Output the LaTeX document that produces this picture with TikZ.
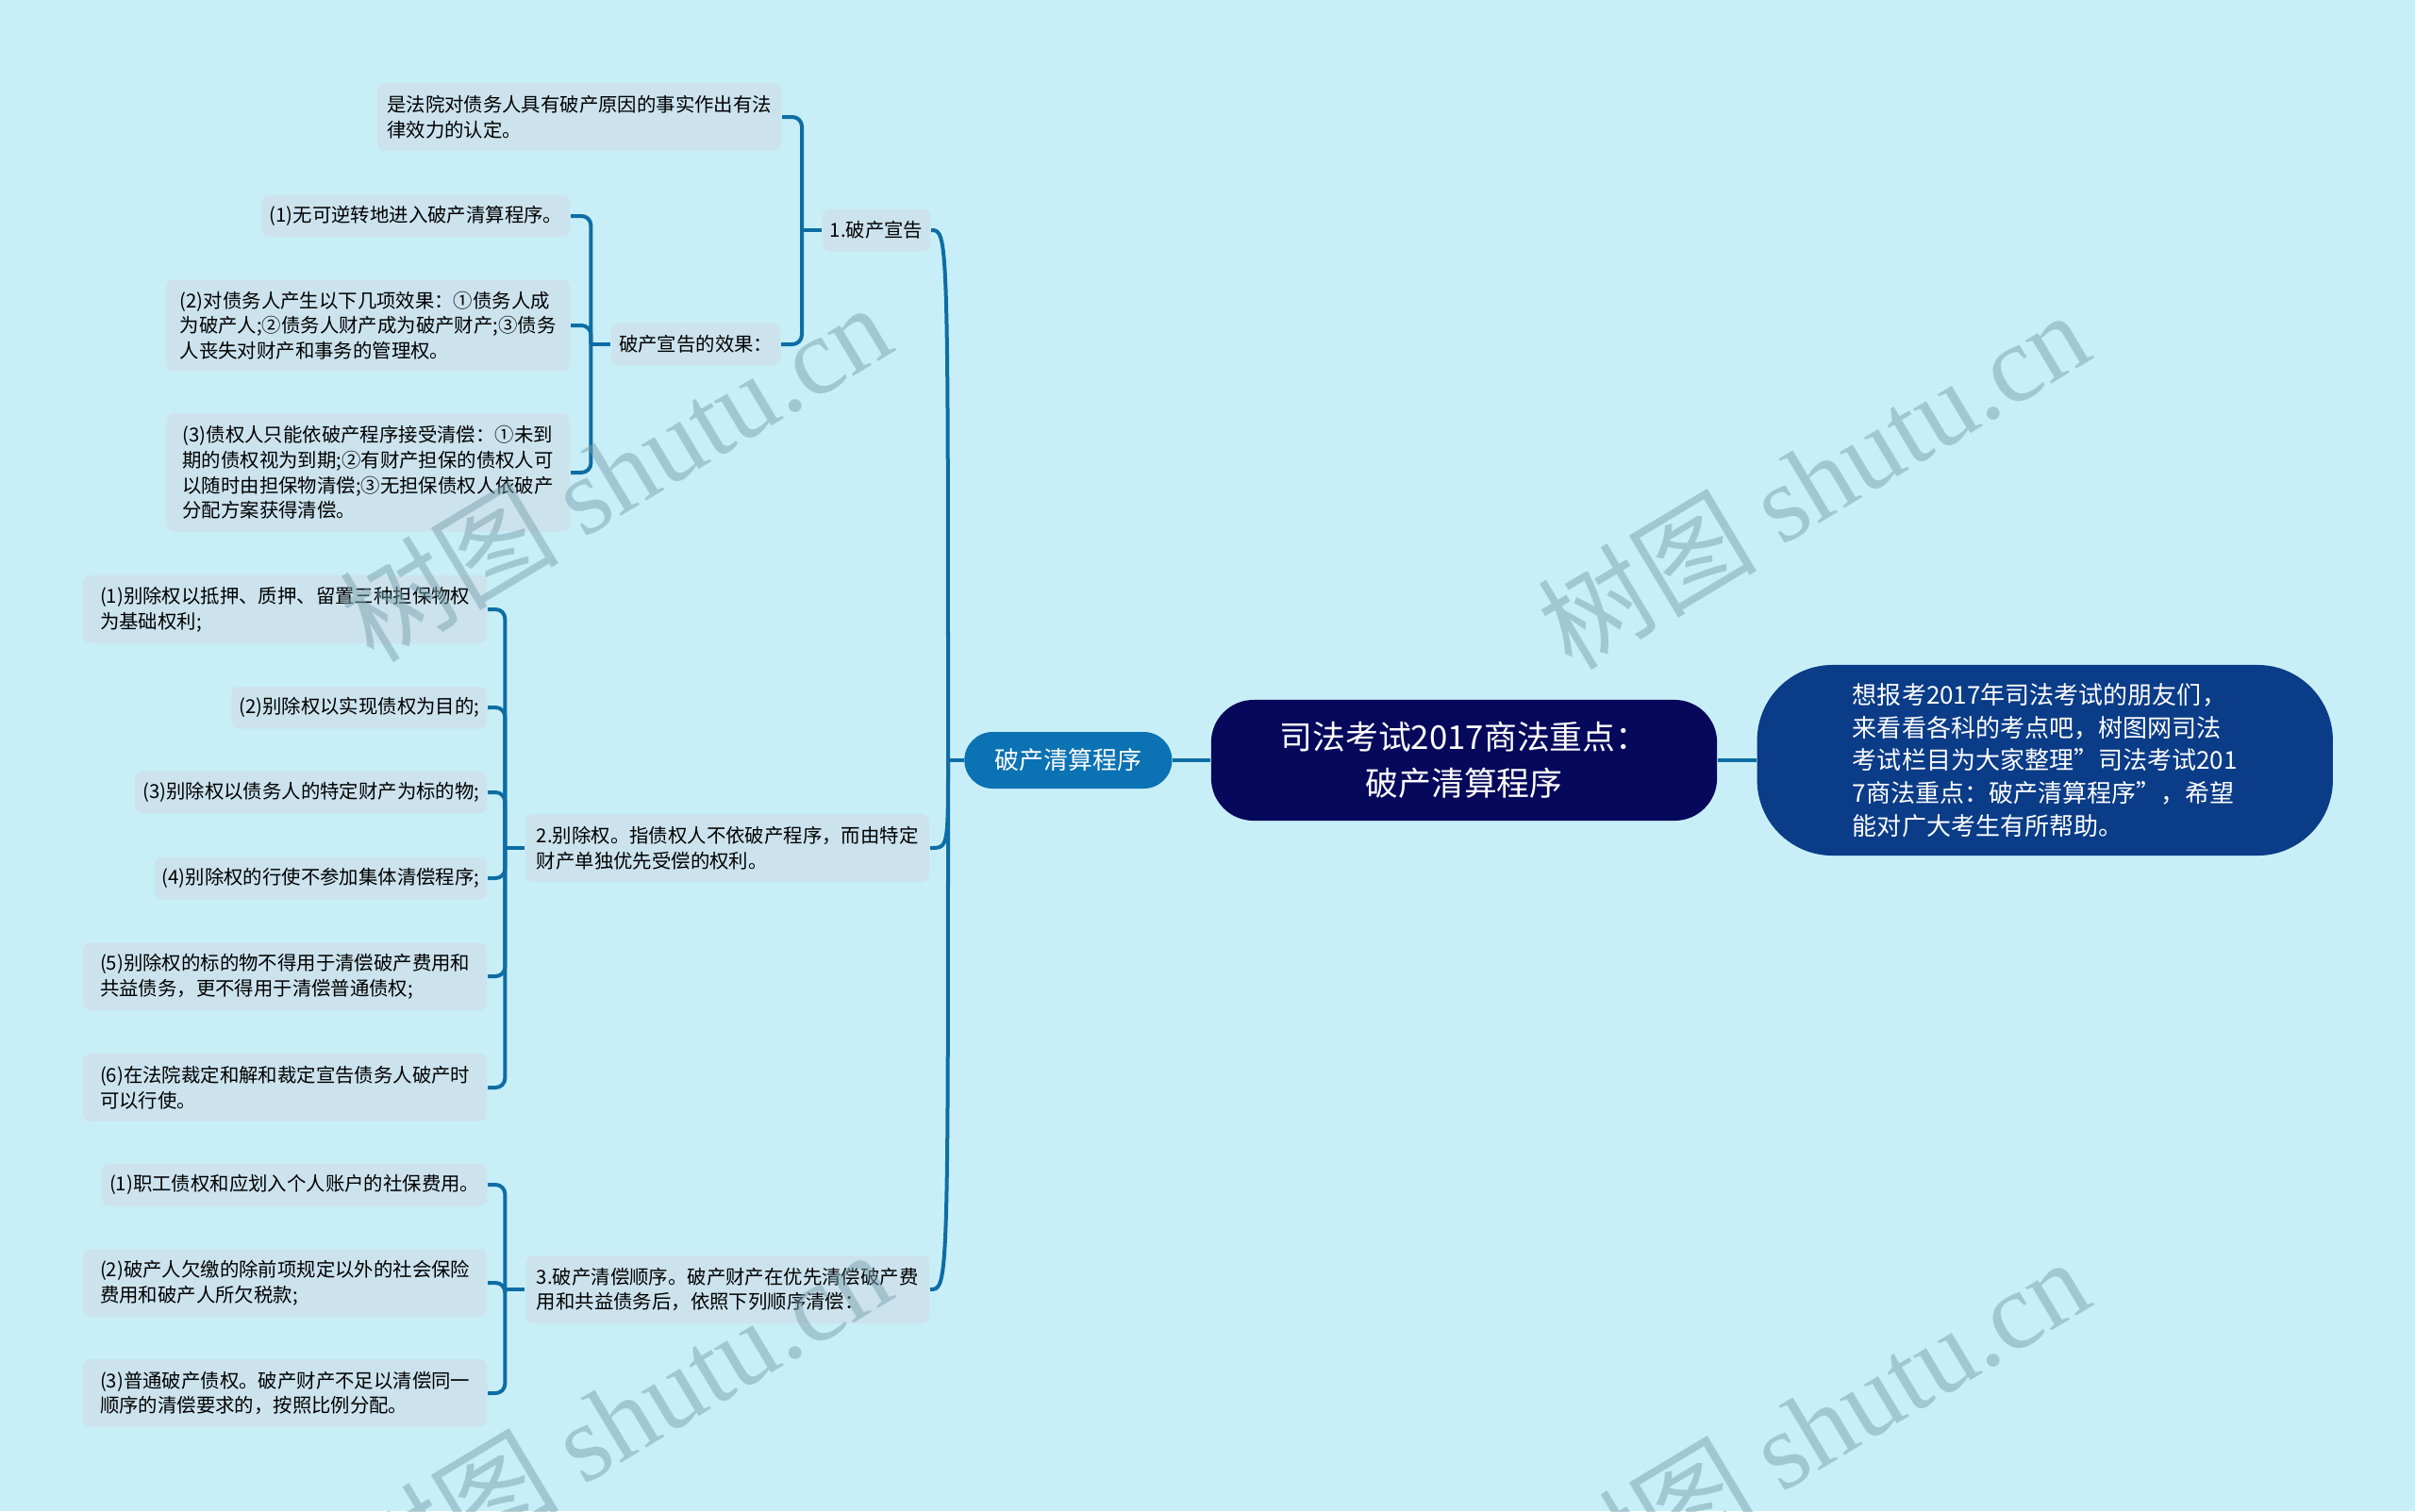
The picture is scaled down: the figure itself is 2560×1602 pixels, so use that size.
\documentclass[tikz,border=0pt]{standalone}
\usepackage{fontspec}
\setmainfont{Noto Sans CJK SC}
\newfontfamily\wmlatin{Liberation Serif}
\usetikzlibrary{positioning,calc}

\definecolor{bgc}{HTML}{C8EFF7}
\definecolor{leafbg}{HTML}{CCE3EE}
\definecolor{linkc}{HTML}{0E6DA5}
\definecolor{procc}{HTML}{0B72B3}
\definecolor{rootc}{HTML}{06085C}
\definecolor{introc}{HTML}{0A3C88}
\definecolor{wmc}{HTML}{7BA3AE}

\begin{document}
\begin{tikzpicture}[x=0.01cm, y=-0.01cm,
  leaf/.style={fill=leafbg, rounded corners=0.08cm, align=left, anchor=east, inner xsep=0.08cm, inner ysep=0pt, font=\fontsize{5.8}{7.6}\selectfont},
  one/.style={minimum height=0.45cm},
  two/.style={minimum height=0.72cm},
  three/.style={minimum height=0.97cm},
  four/.style={minimum height=1.25cm},
  wide/.style={minimum width=4.28cm},
  link/.style={draw=linkc, line width=0.04cm},
  brace/.style={link, rounded corners=0.1cm},
  wm/.style={text=wmc, text opacity=0.5, font=\fontsize{33}{33}\selectfont}]
\fill[bgc] (0,0) rectangle (2560,1602);
\useasboundingbox (0,0) rectangle (2560,1602);

% centre
\node[fill=rootc, text=white, rounded corners=0.45cm, minimum width=5.36cm, minimum height=1.28cm, align=center, font=\fontsize{9.9}{14}\selectfont] (root) at (1552,806) {司法考试2017商法重点：\\破产清算程序};
\node[fill=procc, text=white, rounded corners=0.3cm, minimum width=2.2cm, minimum height=0.6cm, font=\fontsize{7.4}{9}\selectfont, left=0.4cm of root] (proc) {破产清算程序};
\node[fill=introc, text=white, rounded corners=0.8cm, minimum width=6.1cm, minimum height=2.02cm, align=left, font=\fontsize{7.4}{9.9}\selectfont, right=0.41cm of root] (intro) {想报考2017年司法考试的朋友们，\\来看看各科的考点吧，树图网司法\\考试栏目为大家整理"司法考试201\\7商法重点：破产清算程序"，希望\\能对广大考生有所帮助。};
\draw[link] (proc) -- (root);
\draw[link] (root) -- (intro);

% first level
\node[leaf, one] (l1) at (987,244) {1.破产宣告};
\node[leaf, two, wide] (l2) at (986,899) {2.别除权。指债权人不依破产程序，而由特定\\财产单独优先受偿的权利。};
\node[leaf, two, wide] (l3) at (986,1367) {3.破产清偿顺序。破产财产在优先清偿破产费\\用和共益债务后，依照下列顺序清偿：};

\coordinate (trunk) at (1005,806);
\draw[link] (proc) -- (trunk);
\foreach \c in {l1,l2,l3}
  \draw[link] (trunk) .. controls (trunk |- \c.east) .. (\c.east);

% 1
\node[leaf, two, wide] (a0) at (829,124) {是法院对债务人具有破产原因的事实作出有法\\律效力的认定。};
\node[leaf, one] (a1) at (828,365) {破产宣告的效果：};
\node[leaf, one] (e1) at (605,229) {(1)无可逆转地进入破产清算程序。};
\node[leaf, three, wide] (e2) at (605,345) {(2)对债务人产生以下几项效果：①债务人成\\为破产人;②债务人财产成为破产财产;③债务\\人丧失对财产和事务的管理权。};
\node[leaf, four, wide] (e3) at (605,501) {(3)债权人只能依破产程序接受清偿：①未到\\期的债权视为到期;②有财产担保的债权人可\\以随时由担保物清偿;③无担保债权人依破产\\分配方案获得清偿。};

\draw[link] (l1.west) -- ++(-21,0) coordinate (k1);
\foreach \c in {a0,a1}
  \draw[brace] (k1) |- (\c.east);
\draw[link] (a1.west) -- ++(-21,0) coordinate (k2);
\foreach \c in {e1,e2,e3}
  \draw[brace] (k2) |- (\c.east);

% 2
\node[leaf, two, wide] (b1) at (517,646) {(1)别除权以抵押、质押、留置三种担保物权\\为基础权利;};
\node[leaf, one] (b2) at (517,750) {(2)别除权以实现债权为目的;};
\node[leaf, one] (b3) at (517,840) {(3)别除权以债务人的特定财产为标的物;};
\node[leaf, one] (b4) at (517,931) {(4)别除权的行使不参加集体清偿程序;};
\node[leaf, two, wide] (b5) at (517,1035) {(5)别除权的标的物不得用于清偿破产费用和\\共益债务，更不得用于清偿普通债权;};
\node[leaf, two, wide] (b6) at (517,1153) {(6)在法院裁定和解和裁定宣告债务人破产时\\可以行使。};

\draw[link] (l2.west) -- ++(-21,0) coordinate (k3);
\foreach \c in {b1,b2,b3,b4,b5,b6}
  \draw[brace] (k3) |- (\c.east);

% 3
\node[leaf, one] (c1) at (517,1256) {(1)职工债权和应划入个人账户的社保费用。};
\node[leaf, two, wide] (c2) at (517,1360) {(2)破产人欠缴的除前项规定以外的社会保险\\费用和破产人所欠税款;};
\node[leaf, two, wide] (c3) at (517,1477) {(3)普通破产债权。破产财产不足以清偿同一\\顺序的清偿要求的，按照比例分配。};

\draw[link] (l3.west) -- ++(-21,0) coordinate (k4);
\foreach \c in {c1,c2,c3}
  \draw[brace] (k4) |- (\c.east);

% watermark
\foreach \p in {(652,500),(1922,508),(652,1504),(1922,1512)}
  \node[wm, rotate=31] at \p {树图 {\wmlatin shutu.cn}};
\end{tikzpicture}
\end{document}
